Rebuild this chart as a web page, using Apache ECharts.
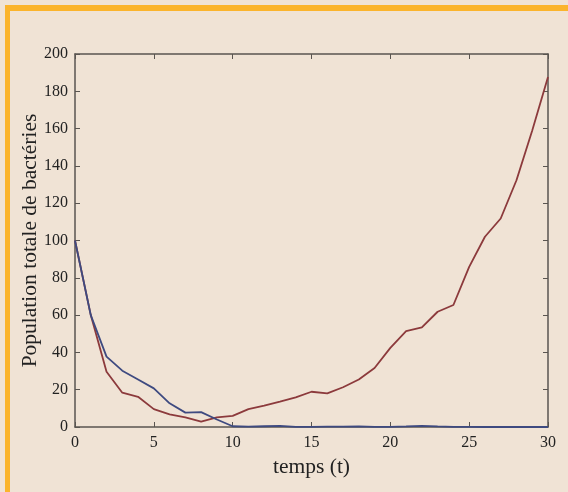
<!DOCTYPE html>
<html>
<head>
<meta charset="utf-8">
<script src="https://cdn.jsdelivr.net/npm/echarts@6/dist/echarts.min.js"></script>
<style>
    html, body { margin: 0; padding: 0; background: #f0e3d5; }
    .frame {
        position: absolute; left: 5px; top: 5px; width: 563px; height: 487px;
        border-top: 6px solid #fbb42c; border-left: 5px solid #fbb42c;
        box-sizing: border-box;
    }
    #chart { position: absolute; left: 0; top: 0; width: 568px; height: 492px; }
</style>
</head>
<body>
<div class="frame"></div>
<div id="chart"></div>
<script>
    // temps t = 0..30
    const temps = [0, 1, 2, 3, 4, 5, 6, 7, 8, 9, 10, 11, 12, 13, 14, 15, 16, 17, 18, 19, 20, 21, 22, 23, 24, 25, 26, 27, 28, 29, 30];
    const popRouge = [100, 60, 29.6, 18.4, 16.2, 9.6, 6.8, 5.2, 2.9, 5.2, 6, 9.6, 11.4, 13.6, 15.9, 18.9, 18, 21.3, 25.5, 31.6, 42.4, 51.4, 53.4, 61.8, 65.4, 85.9, 102, 111.8, 132.3, 159, 187.7];
    const popBleu = [100, 60, 37.7, 30.2, 25.5, 20.7, 12.7, 7.7, 8, 4, 0.4, 0.2, 0.4, 0.6, 0.1, 0.1, 0.2, 0.2, 0.3, 0.1, 0.1, 0.3, 0.6, 0.3, 0.1, 0.1, 0, 0, 0, 0, 0];

    const pairs = (ys) => temps.map((t, i) => [t, ys[i]]);

    const font = 'Liberation Serif';
    const axisCol = '#5a5550';
    // 轴线 + 向内刻度 (onZero 关掉, 否则上/右轴会跑到 0 处)
    const line = { show: true, onZero: false, lineStyle: { color: axisCol, width: 1.5 } };
    const tick = { show: true, inside: true, length: 5, lineStyle: { color: axisCol } };

    let mChart = echarts.init(document.getElementById('chart'));
    let options = {
        animation: false,
        grid: { left: 75, top: 54, right: 20, bottom: 65 },
        xAxis: [
            {
                type: 'value', min: 0, max: 30, interval: 5,
                name: 'temps (t)', nameLocation: 'middle', nameGap: 29,
                nameTextStyle: { fontFamily: font, fontSize: 21.5, color: '#222' },
                axisLine: line, axisTick: tick,
                axisLabel: { fontFamily: font, fontSize: 16, color: '#222', margin: 8 },
                splitLine: { show: false }
            },
            {
                type: 'value', min: 0, max: 30, interval: 5, position: 'top',
                axisLine: line, axisTick: tick,
                axisLabel: { show: false },
                splitLine: { show: false }
            }
        ],
        yAxis: [
            {
                type: 'value', min: 0, max: 200, interval: 20,
                name: 'Population totale de bactéries', nameLocation: 'middle',
                nameGap: 34, nameMoveOverlap: false,
                nameTextStyle: { fontFamily: font, fontSize: 21.5, color: '#222' },
                axisLine: line, axisTick: tick,
                axisLabel: { fontFamily: font, fontSize: 16, color: '#222', margin: 7 },
                splitLine: { show: false }
            },
            {
                type: 'value', min: 0, max: 200, interval: 20, position: 'right',
                axisLine: line, axisTick: tick,
                axisLabel: { show: false },
                splitLine: { show: false }
            }
        ],
        series: [
            {
                type: 'line', name: 'rouge', data: pairs(popRouge),
                symbol: 'none', lineStyle: { color: '#8c3a3c', width: 1.8 }
            },
            {
                type: 'line', name: 'bleu', data: pairs(popBleu),
                symbol: 'none', lineStyle: { color: '#3e4a80', width: 1.8 }
            }
        ]
    };
    mChart.setOption(options);
</script>
</body>
</html>
